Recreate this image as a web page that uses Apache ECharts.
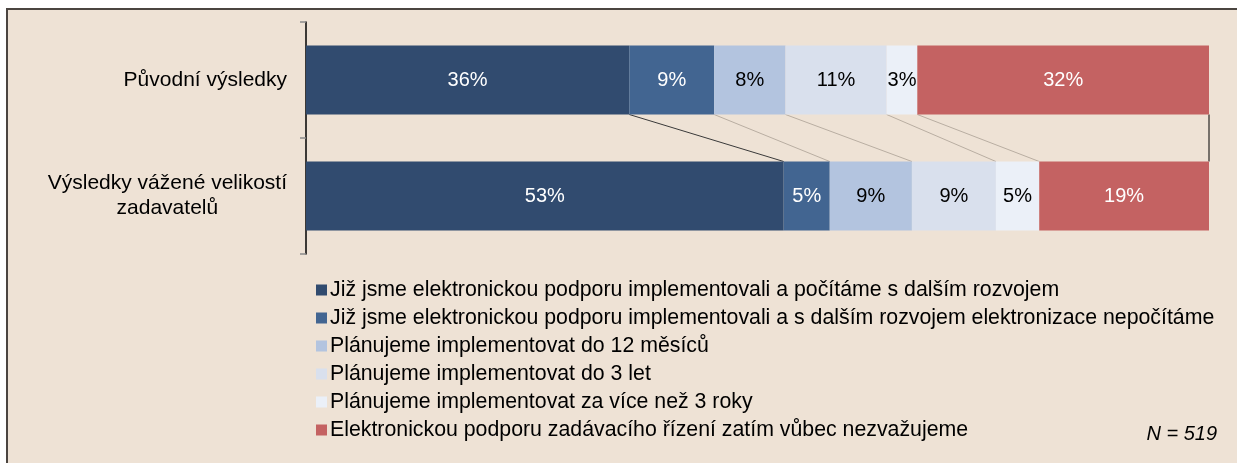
<!DOCTYPE html>
<html>
<head>
<meta charset="utf-8">
<script src="https://cdn.jsdelivr.net/npm/echarts@6/dist/echarts.min.js"></script>
<style>
html,body{margin:0;padding:0;background:#ffffff;}
#chart{width:1237px;height:463px;}
</style>
</head>
<body>
<div id="chart"></div>
<script>
const categories = ['Původní výsledky', 'Výsledky vážené velikostí\nzadavatelů'];
const seriesNames = [
  'Již jsme elektronickou podporu implementovali a počítáme s dalším rozvojem',
  'Již jsme elektronickou podporu implementovali a s dalším rozvojem elektronizace nepočítáme',
  'Plánujeme implementovat do 12 měsíců',
  'Plánujeme implementovat do 3 let',
  'Plánujeme implementovat za více než 3 roky',
  'Elektronickou podporu zadávacího řízení zatím vůbec nezvažujeme'
];
const s1 = [35.8, 52.9];
const s2 = [9.4, 5.1];
const s3 = [7.9, 9.1];
const s4 = [11.2, 9.3];
const s5 = [3.4, 4.8];
const s6 = [32.3, 18.8];
const noteText = 'N = 519';

const seriesValues = [s1, s2, s3, s4, s5, s6];
const colors = ['#314B6F', '#426591', '#B3C4DF', '#D9E0ED', '#EBF0F8', '#C46262'];
const labelColors = ['#ffffff', '#ffffff', '#000000', '#000000', '#000000', '#ffffff'];
const connectorColors = ['#3a3a3a', '#B9AEA2', '#B9AEA2', '#B9AEA2', '#B9AEA2', '#000000'];
const FONT = '"Liberation Sans", Arial, sans-serif';
const BAR_W = 69;

// cumulative ends for connector lines
const connectorData = [];
let c0 = 0, c1 = 0;
for (let i = 0; i < seriesValues.length; i++) {
  c0 += seriesValues[i][0];
  c1 += seriesValues[i][1];
  connectorData.push([c0, 0, c1, 1]);
}

const barSeries = seriesValues.map((vals, i) => ({
  name: seriesNames[i],
  type: 'bar',
  stack: 'total',
  barWidth: BAR_W,
  data: vals,
  itemStyle: { color: colors[i] },
  label: {
    show: true,
    position: 'inside',
    color: labelColors[i],
    fontFamily: FONT,
    fontSize: 20,
    formatter: p => Math.round(p.value) + '%'
  },
  emphasis: { disabled: true },
  z: 3
}));

const connectorSeries = {
  type: 'custom',
  data: connectorData,
  encode: { x: [0, 2], y: [1, 3] },
  silent: true,
  z: 2,
  renderItem: function (params, api) {
    const top = api.coord([api.value(0), api.value(1)]);
    const bot = api.coord([api.value(2), api.value(3)]);
    return {
      type: 'line',
      shape: { x1: top[0], y1: top[1] + BAR_W / 2, x2: bot[0], y2: bot[1] - BAR_W / 2 },
      style: { stroke: connectorColors[params.dataIndex], lineWidth: 1 }
    };
  }
};

const chart = echarts.init(document.getElementById('chart'), null, { renderer: 'canvas' });
chart.setOption({
  animation: false,
  backgroundColor: '#ffffff',
  graphic: [{
    type: 'rect',
    z: -10,
    shape: { x: 7, y: 9, width: 1300, height: 500 },
    style: { fill: '#EEE2D5', stroke: '#4B4540', lineWidth: 2 }
  }],
  title: {
    text: noteText,
    right: 15,
    top: 419,
    textStyle: { fontFamily: FONT, fontSize: 20, fontStyle: 'italic', fontWeight: 'normal', color: '#000' }
  },
  grid: { left: 306, right: 28, top: 22, bottom: 209, containLabel: false },
  xAxis: {
    type: 'value', min: 0, max: 100, interval: 20,
    show: false
  },
  yAxis: {
    type: 'category',
    inverse: true,
    data: categories,
    axisLine: { show: true, lineStyle: { color: '#000', width: 1.5 } },
    axisTick: { show: true, length: 6, lineStyle: { color: '#8a8a8a', width: 1.5 } },
    axisLabel: {
      margin: 19,
      fontFamily: FONT,
      fontSize: 21,
      color: '#000',
      lineHeight: 25,
      formatter: v => v.split('\n').map(s => '{c|' + s + '}').join('\n'),
      rich: { c: { align: 'center', fontFamily: FONT, fontSize: 21, lineHeight: 25, color: '#000' } }
    }
  },
  legend: {
    orient: 'vertical',
    left: 311,
    top: 274,
    itemWidth: 11,
    itemHeight: 11,
    itemGap: 6,
    icon: 'rect',
    data: seriesNames,
    selectedMode: false,
    textStyle: { fontFamily: FONT, fontSize: 21.3, color: '#000', lineHeight: 22, padding: [0, 0, 0, -2] }
  },
  series: [...barSeries, connectorSeries]
});
</script>
</body>
</html>
